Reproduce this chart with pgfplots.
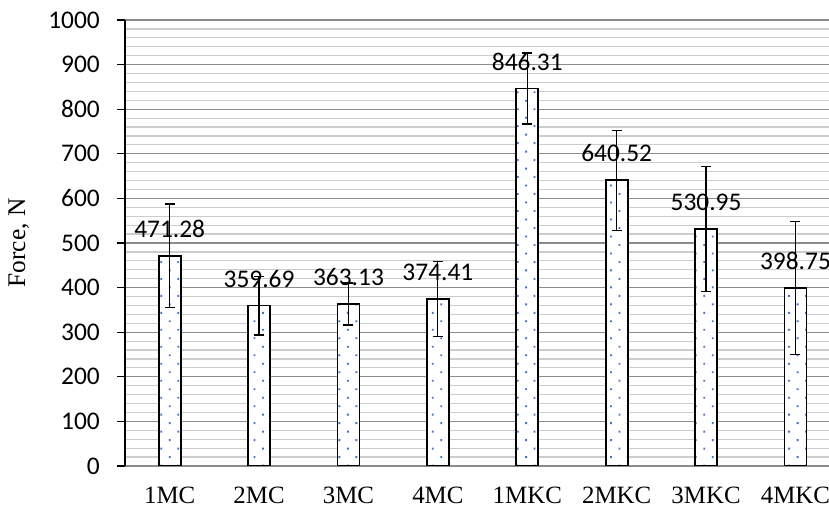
\documentclass[border=0pt]{standalone}
\usepackage{fontspec}
\setmainfont{Liberation Serif}
\newfontfamily\carl{Carlito}
\usepackage{pgfplots}
\pgfplotsset{compat=1.18}
\usetikzlibrary{patterns.meta}
\definecolor{dotblue}{HTML}{4472C4}
\begin{document}
\begin{tikzpicture}
\useasboundingbox (-125bp,-42bp) rectangle (704bp,466bp);
\begin{axis}[
  at={(0,0)}, anchor=south west,
  scale only axis, width=704bp, height=446bp,
  xmin=-0.5, xmax=7.375, ymin=0, ymax=1000,
  axis x line=bottom, axis y line=left,
  axis line style={-},
  x axis line style={draw=black!45, line width=1.2bp},
  y axis line style={draw=black, line width=1.2bp},
  xtick={0,...,7},
  xticklabels={1MC,2MC,3MC,4MC,1MKC,2MKC,3MKC,4MKC},
  xtick style={draw=none},
  ytick={0,100,...,1000},
  minor y tick num=4,
  ymajorgrids, yminorgrids,
  major grid style={draw=black!45, line width=1.2bp},
  minor grid style={draw=black!20, line width=1.2bp},
  minor y tick style={draw=none},
  major y tick style={draw=black, line width=1.2bp},
  tick align=outside, major tick length=8bp,
  /pgf/number format/assume math mode=true,
  /pgf/number format/1000 sep={},
  yticklabel style={font=\carl\fontsize{25.5}{30}\selectfont, anchor=east, inner sep=0pt, xshift=-17bp},
  xticklabel style={font=\fontsize{25}{30}\selectfont, anchor=base, inner sep=0pt, yshift=-30bp},
  ylabel={Force, N},
  ylabel style={font=\fontsize{25.5}{30}\selectfont, anchor=center, at={(axis description cs:-0.151,0.5)}},
  nodes near coords={\pgfmathprintnumber[fixed,fixed zerofill,precision=2,assume math mode=true]{\pgfplotspointmeta}},
  nodes near coords style={font=\carl\fontsize{25.5}{30}\selectfont, anchor=center, yshift=27bp, text=black},
  ybar, bar width=22bp,
]
\addplot[ybar, bar width=22bp, draw=black, line width=1.8bp, fill=white,
  postaction={pattern={Dots[distance=12bp, angle=45, radius=1.3bp]}, pattern color=dotblue},
  error bars/.cd, y dir=both, y explicit,
  error bar style={line width=1.2bp, black},
  error mark options={rotate=90, mark size=5bp, line width=1.2bp, black}]
coordinates {
  (0,471.28) +- (0,116)
  (1,359.69) +- (0,66)
  (2,363.13) +- (0,47)
  (3,374.41) +- (0,84)
  (4,846.31) +- (0,79.5)
  (5,640.52) +- (0,112)
  (6,530.95) +- (0,140)
  (7,398.75) +- (0,149)
};
\end{axis}
\end{tikzpicture}
\end{document}
